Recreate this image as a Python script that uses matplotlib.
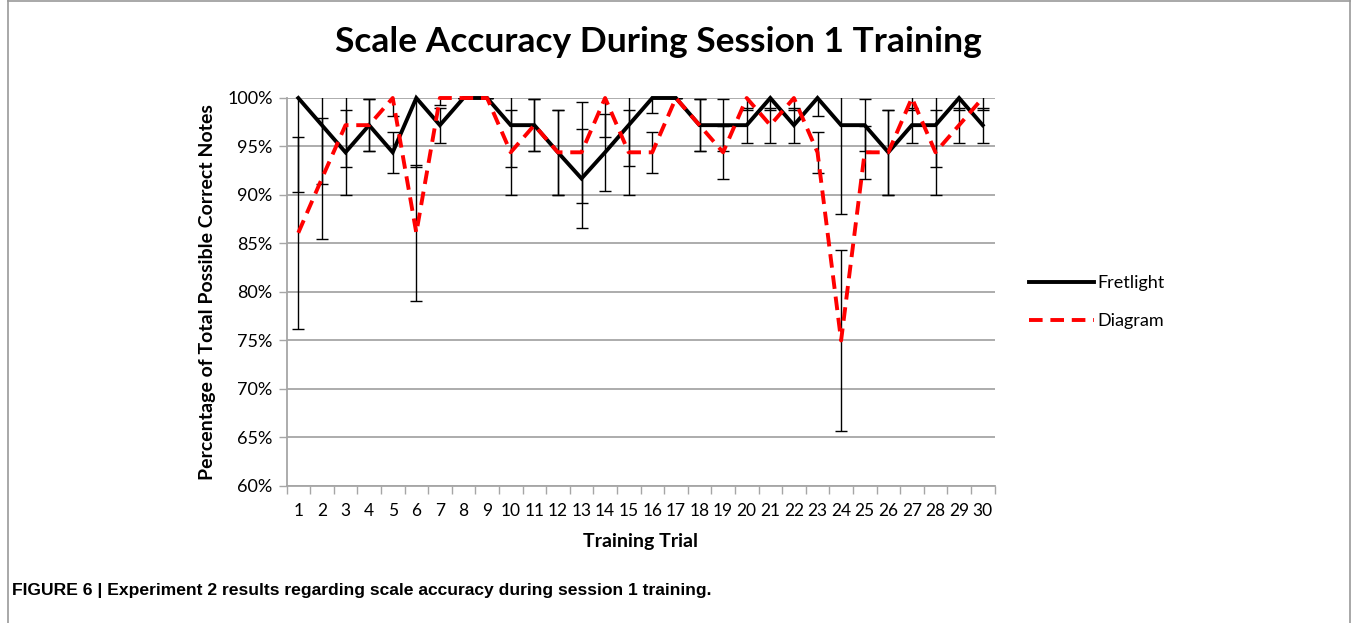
import matplotlib
matplotlib.use("Agg")
import matplotlib.pyplot as plt
from matplotlib.lines import Line2D

trials = list(range(1, 31))

fretlight = [100, 97.2, 94.4, 97.2, 94.4, 100, 97.2, 100, 100, 97.2,
             97.2, 94.4, 91.7, 94.4, 97.2, 100, 100, 97.2, 97.2, 97.2,
             100, 97.2, 100, 97.2, 97.2, 94.4, 97.2, 97.2, 100, 97.2]
fretlight_err = [9.7, 6.1, 4.4, 2.7, 2.1, 7.1, 1.8, 0, 0, 4.3,
                 2.7, 4.4, 5.1, 4.0, 4.2, 1.5, 0, 2.7, 2.7, 1.8,
                 1.2, 1.8, 1.9, 9.2, 2.7, 4.4, 1.8, 4.3, 1.2, 1.8]

diagram = [86.1, 91.7, 97.2, 97.2, 100, 86.1, 100, 100, 100, 94.4,
           97.2, 94.4, 94.4, 100, 94.4, 94.4, 100, 97.2, 94.4, 100,
           97.2, 100, 94.4, 75.0, 94.4, 94.4, 100, 94.4, 97.2, 100]
diagram_err = [9.9, 6.2, 4.3, 2.7, 1.9, 7.0, 0.7, 0, 0, 4.4,
               2.7, 4.4, 5.2, 4.0, 4.4, 2.1, 0, 2.7, 2.7, 1.2,
               1.8, 1.2, 2.1, 9.3, 2.7, 4.4, 1.2, 4.4, 1.8, 1.2]

yticks = [60, 65, 70, 75, 80, 85, 90, 95, 100]

font = "Lato"
grid_col = "#a6a6a6"

fig = plt.figure(figsize=(13.55, 6.23), dpi=100)
ax = fig.add_axes([286.5 / 1355, 137 / 623, 708 / 1355, 388 / 623])

# error bars first, lines on top
for vals, errs in [(fretlight, fretlight_err), (diagram, diagram_err)]:
    ax.errorbar(trials, vals, yerr=errs, fmt="none", ecolor="black",
                elinewidth=1.0, capsize=4.5, capthick=1.0, zorder=3)

ax.plot(trials, fretlight, color="black", lw=2.8, zorder=4, clip_on=False,
        solid_joinstyle="miter")
ax.plot(trials, diagram, color="#ff0000", lw=2.8, zorder=5, clip_on=False,
        dashes=(3.5, 2.0))

ax.set_xlim(0.5, 30.5)
ax.set_ylim(60, 100)
ax.set_yticks(yticks)
ax.set_yticklabels([f"{v}%" for v in yticks], fontfamily=font, fontsize=13)
ax.set_xticks(trials)
ax.set_xticklabels([str(t) for t in trials], fontfamily=font, fontsize=12.5)
ax.set_xticks([t + 0.5 for t in range(0, 31)], minor=True)
ax.tick_params(axis="x", which="major", length=0, pad=12)
ax.tick_params(axis="x", which="minor", length=6, color=grid_col, width=1)
ax.tick_params(axis="y", length=6, color=grid_col, width=1, pad=4)

ax.yaxis.grid(True, color=grid_col, lw=1.3)
ax.set_axisbelow(True)
for s in ["top", "right"]:
    ax.spines[s].set_visible(False)
for s in ["left", "bottom"]:
    ax.spines[s].set_color(grid_col)
    ax.spines[s].set_linewidth(1.3)

ax.set_xlabel("Training Trial", fontfamily=font, fontweight="bold",
              fontsize=14, labelpad=10)
ax.set_ylabel("Percentage of Total Possible Correct Notes", fontfamily=font,
              fontweight="bold", fontsize=14, labelpad=8)

fig.text(658 / 1355, 1 - 42 / 623, "Scale Accuracy During Session 1 Training",
         ha="center", va="center", fontfamily=font, fontweight="bold",
         fontsize=25.5)

handles = [Line2D([], [], color="black", lw=2.8),
           Line2D([], [], color="#ff0000", lw=2.8, dashes=(3.5, 2.0))]
fig.legend(handles, ["Fretlight", "Diagram"], loc="center left",
           bbox_to_anchor=(1013 / 1355, 1 - 302 / 623), frameon=False,
           prop={"family": font, "size": 13}, handlelength=3.6,
           labelspacing=1.2, handletextpad=0.2)

fig.text(12 / 1355, 1 - 590 / 623,
         "FIGURE 6 | Experiment 2 results regarding scale accuracy during session 1 training.",
         ha="left", va="center", fontweight="bold", fontsize=12.6,
         family=["Liberation Sans Narrow", "Liberation Sans"])

# figure frame (left, right, top)
for xs, ys in [([8, 8], [0, 623]), ([1350, 1350], [0, 623]), ([8, 1350], [1, 1])]:
    fig.add_artist(Line2D([x / 1355 for x in xs], [1 - y / 623 for y in ys],
                          color="#9a9a9a", lw=1.2))

fig.savefig("out.png", dpi=100)
